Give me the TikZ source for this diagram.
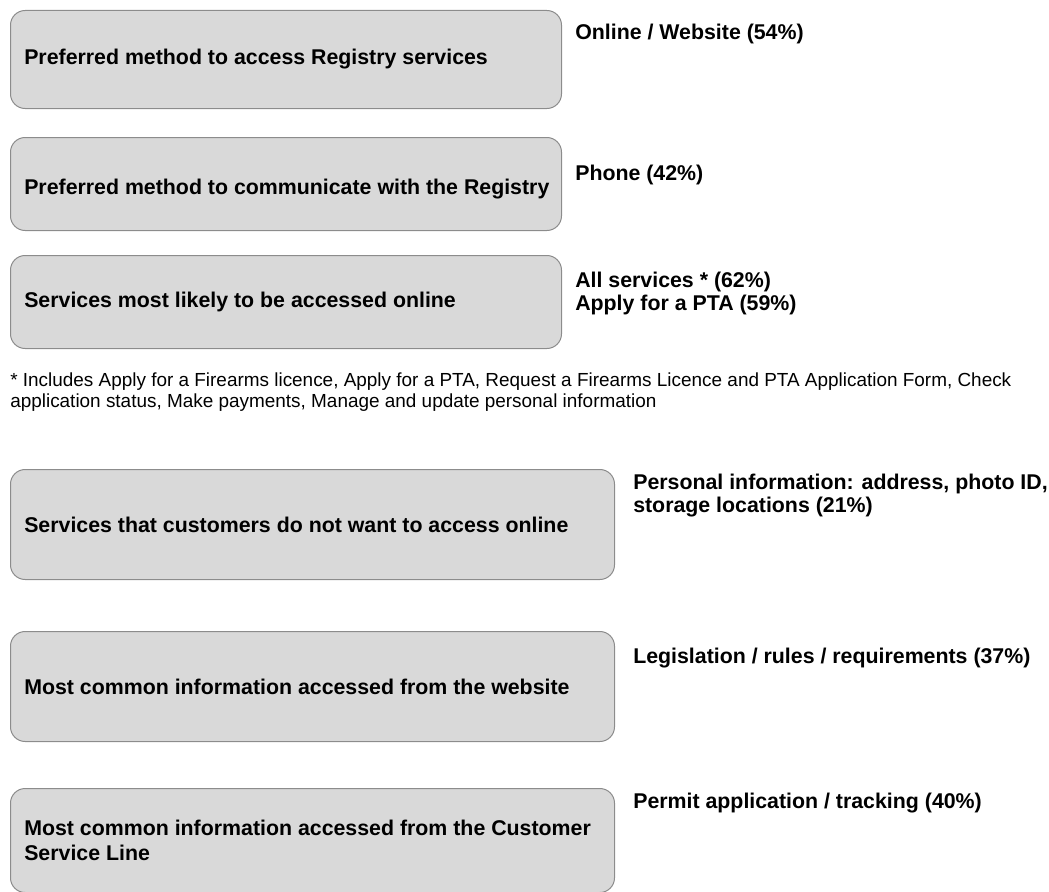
\documentclass[tikz,border=0pt]{standalone}
\usepackage{fontspec}
\setmainfont{Liberation Sans}
\definecolor{BoxFill}{RGB}{217,217,217}
\definecolor{BoxLine}{RGB}{140,140,140}

\begin{document}
\begin{tikzpicture}[x=0.75pt,y=-0.75pt,
  qbox/.style={draw=BoxLine,fill=BoxFill,line width=0.75pt,rounded corners=11pt,
    anchor=north west,inner sep=0pt},
  qtext/.style={anchor=west,align=left,inner sep=0pt,xshift=10.5pt,
    font=\bfseries\fontsize{16}{18.5}\selectfont},
  ans/.style={anchor=north west,align=left,inner sep=0pt,
    font=\bfseries\fontsize{16}{16.75}\selectfont},
  note/.style={anchor=north west,align=left,inner sep=0pt,
    font=\fontsize{14.2}{15.75}\selectfont}]
\useasboundingbox (0,0) rectangle (1049,892);

% question boxes
\node[qbox,minimum width=413.25pt,minimum height=73.5pt] (q1) at (10,10) {};
\node[qbox,minimum width=413.25pt,minimum height=69.75pt] (q2) at (10,137) {};
\node[qbox,minimum width=413.25pt,minimum height=69.75pt] (q3) at (10,255) {};
\node[qbox,minimum width=453pt,minimum height=82.5pt] (q4) at (10,469) {};
\node[qbox,minimum width=453pt,minimum height=82.5pt] (q5) at (10,631) {};
\node[qbox,minimum width=453pt,minimum height=78pt] (q6) at (10,788) {};

% questions
\node[qtext] (t1) at (q1.west) {Preferred method to access Registry services};
\node[qtext,yshift=-4pt] (t2) at (q2.west) {Preferred method to communicate with the Registry};
\node[qtext] (t3) at (q3.west) {Services most likely to be accessed online};
\node[qtext] (t4) at (q4.west) {Services that customers do not want to access online};
\node[qtext] (t5) at (q5.west) {Most common information accessed from the website};
\node[qtext] (t6) at (q6.west) {Most common information accessed from the Customer\\Service Line};

% answers
\node[ans] (a1) at (575,24) {Online / Website (54\%)};
\node[ans] (a2) at (575,165) {Phone (42\%)};
\node[ans] (a3) at (575,272) {All services * (62\%)\\Apply for a PTA (59\%)};
\node[ans] (a4) at (633,474) {Personal information: address, photo ID,\\storage locations (21\%)};
\node[ans] (a5) at (633,648) {Legislation / rules / requirements (37\%)};
\node[ans] (a6) at (633,793) {Permit application / tracking (40\%)};

% footnote
\node[note] (fn) at (10,373) {* Includes Apply for a Firearms licence, Apply for a PTA, Request a Firearms Licence and PTA Application Form, Check\\application status, Make payments, Manage and update personal information};

\end{tikzpicture}
\end{document}
